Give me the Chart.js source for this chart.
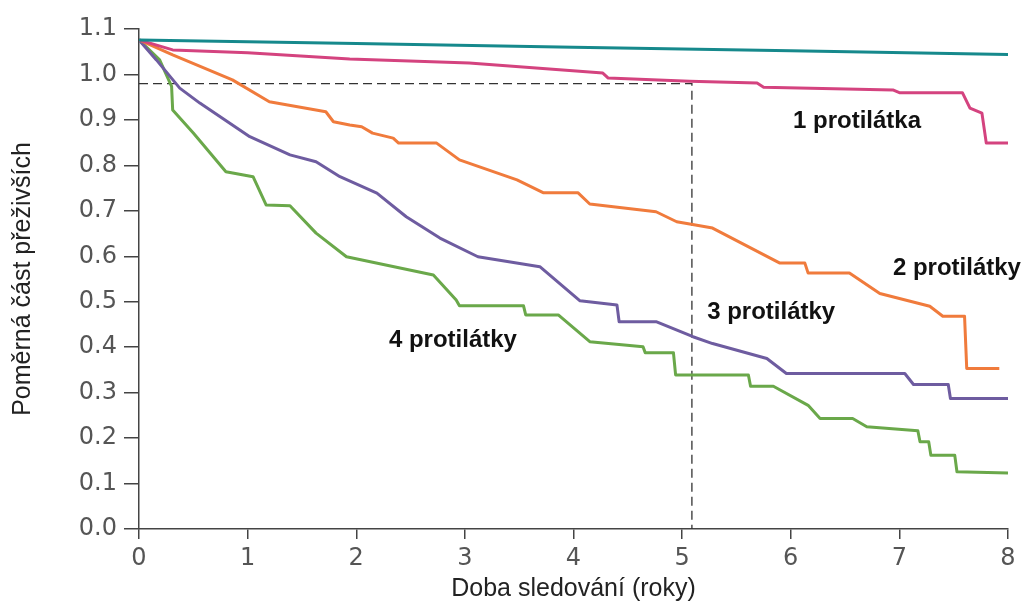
<!DOCTYPE html>
<html>
<head>
<meta charset="utf-8">
<script src="https://cdn.jsdelivr.net/npm/chart.js@4"></script>
<style>
  body { margin: 0; background: #fff; }
</style>
</head>
<body>
<canvas id="survival" width="1027" height="606"></canvas>
<script>
// years of follow-up (x) and survival fraction (y)
const tealX = [0, 2, 4, 6, 8];
const tealY = [1.076, 1.068, 1.06, 1.052, 1.044];

const pinkX = [0, 0.31, 1.0, 1.94, 3.04, 4.27, 4.32, 5.07, 5.69, 5.75, 6.94, 7.0, 7.58, 7.65, 7.76, 7.8, 8.0];
const pinkY = [1.076, 1.054, 1.048, 1.034, 1.025, 1.003, 0.992, 0.985, 0.981, 0.972, 0.966, 0.96, 0.96, 0.926, 0.915, 0.849, 0.849];

const orangeX = [0, 0.31, 0.86, 1.2, 1.72, 1.79, 1.94, 2.05, 2.15, 2.34, 2.39, 2.74, 2.95, 3.48, 3.72, 4.04, 4.15, 4.76, 4.95, 5.07, 5.28, 5.9, 6.13, 6.16, 6.54, 6.82, 7.28, 7.4, 7.6, 7.62, 7.92];
const orangeY = [1.076, 1.043, 0.988, 0.94, 0.918, 0.896, 0.889, 0.885, 0.871, 0.86, 0.849, 0.849, 0.812, 0.768, 0.74, 0.74, 0.715, 0.698, 0.676, 0.671, 0.662, 0.585, 0.585, 0.563, 0.563, 0.518, 0.49, 0.468, 0.468, 0.353, 0.353];

const purpleX = [0, 0.16, 0.375, 0.56, 1.02, 1.39, 1.63, 1.85, 2.19, 2.46, 2.77, 3.12, 3.69, 4.06, 4.4, 4.42, 4.76, 5.1, 5.28, 5.78, 5.96, 7.05, 7.13, 7.45, 7.47, 8.0];
const purpleY = [1.076, 1.032, 0.97, 0.937, 0.863, 0.823, 0.808, 0.775, 0.739, 0.687, 0.64, 0.599, 0.577, 0.502, 0.493, 0.456, 0.456, 0.423, 0.408, 0.375, 0.342, 0.342, 0.318, 0.318, 0.287, 0.287];

const greenX = [0, 0.19, 0.3, 0.31, 0.5, 0.8, 1.05, 1.17, 1.39, 1.63, 1.91, 2.71, 2.92, 2.95, 3.54, 3.56, 3.86, 4.15, 4.64, 4.66, 4.92, 4.94, 5.61, 5.63, 5.84, 6.16, 6.27, 6.57, 6.7, 7.17, 7.19, 7.27, 7.29, 7.51, 7.53, 8.0];
const greenY = [1.076, 1.032, 0.974, 0.922, 0.871, 0.786, 0.775, 0.713, 0.711, 0.651, 0.599, 0.559, 0.504, 0.491, 0.491, 0.471, 0.471, 0.412, 0.401, 0.388, 0.388, 0.339, 0.339, 0.314, 0.314, 0.272, 0.243, 0.243, 0.225, 0.216, 0.192, 0.192, 0.162, 0.162, 0.126, 0.123];

// dashed guide at ~5.1 years
const guideX = [0, 5.09, 5.09];
const guideY = [0.98, 0.98, 0];

// curve labels
const labelTexts = ["1 protilátka", "2 protilátky", "3 protilátky", "4 protilátky"];
const labelX = [6.61, 7.53, 5.82, 2.89];
const labelY = [0.896, 0.574, 0.477, 0.415];

function toPoints(xs, ys) {
  return xs.map((x, i) => ({ x: x, y: ys[i] }));
}

function curve(xs, ys, color) {
  return {
    data: toPoints(xs, ys),
    borderColor: color,
    borderWidth: 3,
    pointRadius: 0,
    borderJoinStyle: "round",
    tension: 0,
    order: 1,
  };
}

const curveLabels = {
  id: "curveLabels",
  afterDatasetsDraw(chart) {
    const ctx = chart.ctx;
    const xs = chart.scales.x;
    const ys = chart.scales.y;
    ctx.save();
    ctx.font = "bold 24px 'Liberation Sans', Arial, sans-serif";
    ctx.fillStyle = "#111";
    ctx.textAlign = "center";
    ctx.textBaseline = "middle";
    labelTexts.forEach((t, i) => {
      ctx.fillText(t, xs.getPixelForValue(labelX[i]), ys.getPixelForValue(labelY[i]));
    });
    ctx.restore();
  },
};

const ctx = document.getElementById("survival").getContext("2d");
new Chart(ctx, {
  type: "line",
  data: {
    datasets: [
      curve(tealX, tealY, "#16898c"),
      curve(pinkX, pinkY, "#d4437f"),
      curve(orangeX, orangeY, "#f07b3c"),
      curve(purpleX, purpleY, "#6e5ca0"),
      curve(greenX, greenY, "#6aa84a"),
      {
        data: toPoints(guideX, guideY),
        borderColor: "#333",
        borderWidth: 1.3,
        borderDash: [9, 5],
        pointRadius: 0,
        order: 2,
      },
    ],
  },
  options: {
    responsive: false,
    animation: false,
    layout: { padding: { top: 29, right: 19, left: 0, bottom: 0 } },
    plugins: {
      legend: { display: false },
      tooltip: { enabled: false },
    },
    scales: {
      x: {
        type: "linear",
        min: 0,
        max: 8,
        afterFit: (scale) => { scale.height = 77; },
        border: { color: "#444", width: 1.5 },
        grid: { drawOnChartArea: false, tickLength: 10, color: "#444", lineWidth: 1.5 },
        ticks: {
          stepSize: 1,
          padding: 5,
          color: "#555",
          font: { family: "'DejaVu Sans'", size: 24 },
        },
        title: {
          display: true,
          text: "Doba sledování (roky)",
          color: "#222",
          font: { family: "'Liberation Sans', Arial", size: 25 },
          padding: { top: 0, bottom: 2 },
        },
      },
      y: {
        min: 0,
        max: 1.1,
        afterFit: (scale) => { scale.width = 139; },
        border: { color: "#444", width: 1.5 },
        grid: { drawOnChartArea: false, tickLength: 15, color: "#444", lineWidth: 1.5 },
        ticks: {
          stepSize: 0.1,
          padding: 7,
          color: "#555",
          font: { family: "'DejaVu Sans'", size: 24 },
          callback: (v) => v.toFixed(1),
        },
        title: {
          display: true,
          text: "Poměrná část přeživších",
          color: "#222",
          font: { family: "'Liberation Sans', Arial", size: 25 },
          padding: { top: 8, bottom: 0 },
        },
      },
    },
  },
  plugins: [curveLabels],
});
</script>
</body>
</html>
